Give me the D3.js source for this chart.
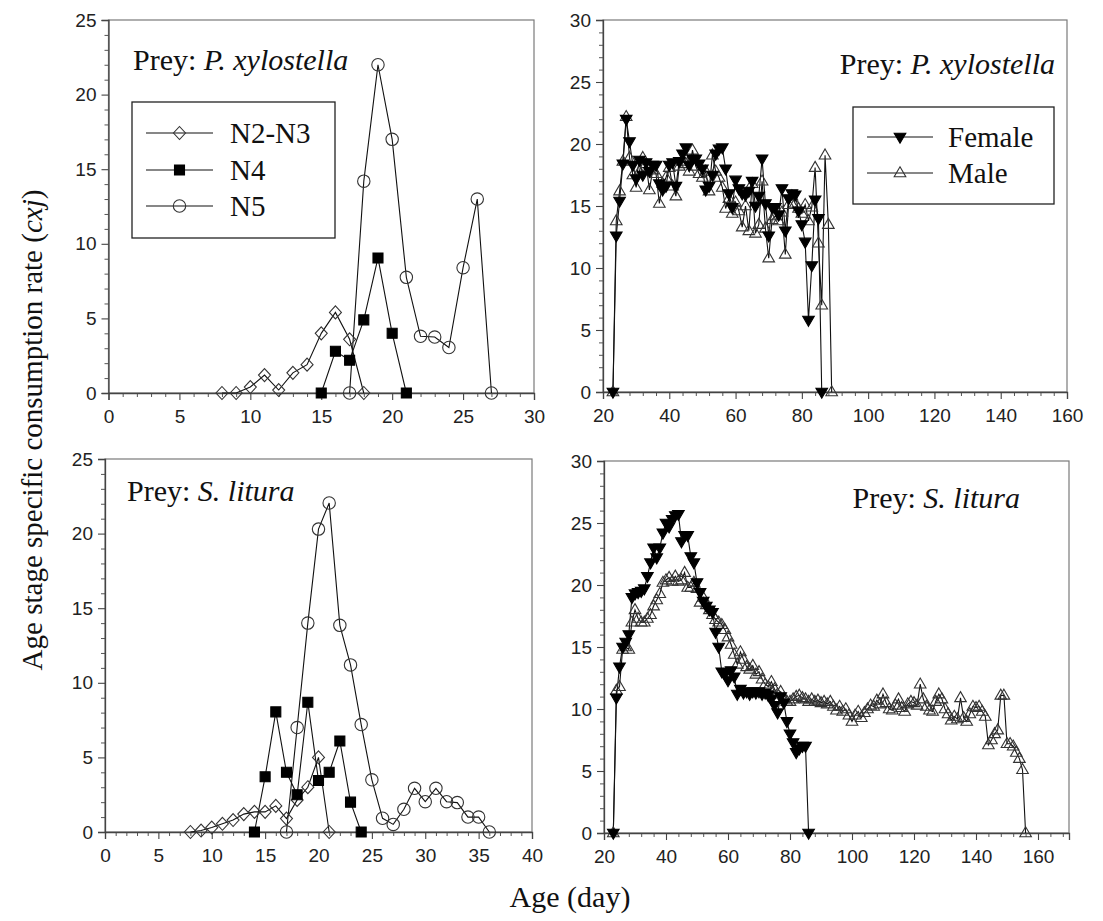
<!DOCTYPE html>
<html>
<head>
<meta charset="utf-8">
<script src="https://cdn.jsdelivr.net/npm/d3@7"></script>
<style>
  body { margin: 0; background: #fff; }
  svg { display: block; }
</style>
</head>
<body>
<svg id="chart" width="1103" height="921"></svg>
<script>
// ---------- Data: age-stage specific consumption rate (cxj) ----------
// Nymphal stages fed P. xylostella (first day of each series + daily values)
const pxN23Start = 8;
const pxN23 = [0, 0, 0.4, 1.2, 0.2, 1.35, 1.9, 4.0, 5.4, 3.6, 0];
const pxN4Start = 15;
const pxN4 = [0, 2.8, 2.2, 4.9, 9.05, 4.0, 0];
const pxN5Start = 17;
const pxN5 = [0, 14.2, 22.0, 17.0, 7.75, 3.8, 3.75, 3.05, 8.4, 13.0, 0];

// Nymphal stages fed S. litura
const slN23Start = 8;
const slN23 = [0, 0.1, 0.3, 0.55, 0.8, 1.2, 1.35, 1.35, 1.75, 0.9, 2.15, 3.0, 5.0, 0];
const slN4Start = 14;
const slN4 = [0, 3.7, 8.05, 4.0, 2.5, 8.7, 3.45, 4.0, 6.1, 2.0, 0];
const slN5Start = 17;
const slN5 = [0, 7.0, 14.0, 20.3, 22.05, 13.85, 11.2, 7.2, 3.5, 0.92, 0.51, 1.52,
              2.93, 2.03, 2.93, 2.03, 1.97, 1.0, 1.0, 0];

// Adults fed P. xylostella (daily from day 23)
const pxFemaleStart = 23;
const pxFemale = [0, 12.6, 15.4, 18.4, 22.0, 20.2, 18.3, 17.2, 18.7, 17.5,
  18.5, 17.8, 18.3, 18.3, 16.8, 16.3, 16.6, 18.3, 18.5, 16.6,
  18.6, 19.2, 19.7, 18.3, 18.8, 18.8, 18.4, 18.0, 16.3, 16.6,
  17.5, 19.2, 19.6, 19.7, 18.0, 16.0, 14.9, 17.1, 16.4, 16.0,
  15.9, 16.2, 17.0, 15.0, 15.8, 18.8, 15.2, 12.6, 14.9, 14.9,
  14.3, 16.4, 13.0, 15.6, 16.0, 15.9, 14.6, 13.5, 12.1, 5.8,
  10.2, 15.5, 14.0, 0];
const pxMaleStart = 23;
const pxMale = [0, 13.8, 16.2, 18.6, 22.2, 18.9, 17.5, 16.5, 17.8, 18.9,
  18.4, 16.3, 17.9, 17.6, 15.2, 16.8, 17.3, 18.1, 16.6, 15.8,
  18.2, 18.6, 18.4, 17.8, 19.5, 18.2, 17.6, 17.3, 17.8, 16.2,
  19.1, 17.8, 17.3, 16.5, 14.8, 15.6, 14.4, 15.3, 14.6, 13.3,
  15.0, 13.0, 16.8, 12.8, 13.5, 17.0, 13.2, 10.8, 13.9, 14.2,
  13.8, 14.5, 11.1, 15.1, 15.8, 15.2, 14.8, 14.4, 15.1, 13.8,
  14.9, 18.1, 12.0, 7.0, 19.1, 13.5, 0];

// Adults fed S. litura (daily from day 23)
const slFemaleStart = 23;
const slFemale = [0, 10.9, 13.4, 15.0, 15.4, 16.0, 19.0, 19.3, 19.4, 19.5,
  19.7, 20.7, 21.8, 23.0, 22.2, 23.0, 24.2, 25.0, 24.7, 25.3,
  25.6, 25.7, 23.5, 24.0, 24.0, 22.3, 21.8, 20.2, 19.4, 18.7,
  18.3, 18.0, 17.8, 16.2, 15.0, 13.0, 12.8, 12.3, 13.1, 12.6,
  11.2, 11.6, 11.3, 11.4, 11.2, 11.4, 11.3, 11.4, 11.2, 11.3,
  11.1, 10.8, 10.3, 9.7, 11.0, 10.5, 9.0, 8.0, 7.3, 6.5,
  6.8, 7.0, 7.0, 0];
const slMaleStart = 23;
const slMale = [0, 11.5, 11.8, 14.8, 15.0, 14.8, 17.0, 18.0, 17.3, 17.0,
  17.0, 17.3, 17.6, 18.3, 18.8, 19.3, 20.2, 20.4, 20.6, 20.3,
  20.7, 20.3, 20.4, 21.0, 19.8, 19.8, 20.2, 19.7, 18.6, 19.0,
  18.4, 18.0, 17.6, 17.2, 17.0, 16.8, 16.4, 15.8, 15.2, 14.4,
  13.6, 14.6, 14.0, 13.4, 13.2, 13.5, 12.8, 13.0, 12.4, 12.0,
  11.8, 12.2, 11.6, 11.2, 11.4, 10.8, 10.6, 10.6, 10.8, 11.0,
  11.1, 10.9, 10.8, 10.6, 10.8, 10.6, 10.7, 10.5, 10.6, 10.4,
  10.6, 10.2, 9.9, 10.2, 9.8, 10.0, 9.5, 9.0, 9.5, 9.8,
  9.3, 9.7, 10.0, 10.3, 10.2, 10.7, 10.4, 11.2, 10.5, 10.0,
  9.9, 10.3, 10.8, 10.1, 9.8, 10.4, 10.6, 10.5, 10.3, 12.0,
  10.8, 10.2, 9.9, 9.8, 10.6, 11.2, 10.8, 10.0, 9.6, 9.1,
  9.4, 9.2, 10.9, 9.3, 9.0, 9.6, 10.2, 10.1, 10.2, 9.8,
  9.4, 7.1, 7.5, 8.0, 8.3, 11.1, 11.1, 7.2, 7.2, 7.0,
  6.5, 6.0, 5.1, 0];

// Axis tick labels
const nymphTicksTop = [0, 5, 10, 15, 20, 25, 30];
const nymphTicksBottom = [0, 5, 10, 15, 20, 25, 30, 35, 40];
const adultTicks = [20, 40, 60, 80, 100, 120, 140, 160];
const yTicks25 = [0, 5, 10, 15, 20, 25];
const yTicks30 = [0, 5, 10, 15, 20, 25, 30];

// Legend labels
const nymphNames = ["N2-N3", "N4", "N5"];
const adultNames = ["Female", "Male"];

// ---------- Drawing ----------
const svg = d3.select("#chart");
const SERIF = "'Liberation Serif', 'Times New Roman', serif";
const SANS = "'Liberation Sans', Arial, sans-serif";

const toPoints = (start, vals) => vals.map((v, i) => ({ day: start + i, v }));

// marker shapes
const markers = {
  diamond: { d: "M0,-6.5L6,0L0,6.5L-6,0Z", fill: "none", stroke: "#333" },
  square: { d: "M-5,-5H5V5H-5Z", fill: "#000", stroke: "#000" },
  circle: { d: "M6.2,0A6.2,6.2 0 1,1 -6.2,0A6.2,6.2 0 1,1 6.2,0Z", fill: "none", stroke: "#333" },
  triUp: { d: "M0,-6.2L5.8,3.8L-5.8,3.8Z", fill: "none", stroke: "#333" },
  triDown: { d: "M0,6.2L5.8,-3.8L-5.8,-3.8Z", fill: "#000", stroke: "#000" }
};

function drawMarker(g, kind, x, y) {
  const m = markers[kind];
  g.append("path")
    .attr("d", m.d)
    .attr("transform", `translate(${x},${y})`)
    .attr("fill", m.fill)
    .attr("stroke", m.stroke)
    .attr("stroke-width", 1.1);
}

function drawPanel(cfg) {
  const x = d3.scaleLinear().domain(cfg.xDomain).range([cfg.left, cfg.right]);
  const y = d3.scaleLinear().domain(cfg.yDomain).range([cfg.bottom, cfg.top]);
  const g = svg.append("g");

  // frame
  g.append("rect")
    .attr("x", cfg.left).attr("y", cfg.top)
    .attr("width", cfg.right - cfg.left).attr("height", cfg.bottom - cfg.top)
    .attr("fill", "none").attr("stroke", "#7a7a7a").attr("stroke-width", 1.2);

  // minor ticks
  const xMinor = d3.range(cfg.xDomain[0], cfg.xDomain[1] + 0.001, cfg.xMinorStep)
    .filter(v => !cfg.xTicks.includes(v));
  const yMinor = d3.range(cfg.yDomain[0], cfg.yDomain[1] + 0.001, 1)
    .filter(v => !cfg.yTicks.includes(v));

  const xMinAx = g.append("g").attr("transform", `translate(0,${cfg.bottom})`)
    .call(d3.axisBottom(x).tickValues(xMinor).tickSize(4).tickFormat(""));
  const yMinAx = g.append("g").attr("transform", `translate(${cfg.left},0)`)
    .call(d3.axisLeft(y).tickValues(yMinor).tickSize(4).tickFormat(""));
  [xMinAx, yMinAx].forEach(a => {
    a.select(".domain").remove();
    a.selectAll("line").attr("stroke", "#555");
  });

  // major ticks
  const xAx = g.append("g").attr("transform", `translate(0,${cfg.bottom})`)
    .call(d3.axisBottom(x).tickValues(cfg.xTicks).tickSize(7).tickPadding(10)
      .tickFormat(d3.format("d")));
  const yAx = g.append("g").attr("transform", `translate(${cfg.left},0)`)
    .call(d3.axisLeft(y).tickValues(cfg.yTicks).tickSize(7).tickPadding(5)
      .tickFormat(d3.format("d")));
  [xAx, yAx].forEach(a => {
    a.select(".domain").attr("stroke", "#444").attr("stroke-width", 1.3);
    a.selectAll("line").attr("stroke", "#444").attr("stroke-width", 1.1);
    a.selectAll("text").attr("fill", "#222")
      .style("font-family", SANS).style("font-size", "19px");
  });

  // series: line then markers
  const line = d3.line().x(d => x(d.day)).y(d => y(d.v));
  cfg.series.forEach(s => {
    g.append("path").datum(s.points)
      .attr("d", line).attr("fill", "none")
      .attr("stroke", "#111").attr("stroke-width", 1.1);
  });
  cfg.series.forEach(s => {
    const mg = g.append("g");
    s.points.forEach(p => drawMarker(mg, s.marker, x(p.day), y(p.v)));
  });

  // prey label
  const t = g.append("text")
    .attr("x", cfg.label.x).attr("y", cfg.label.y)
    .attr("text-anchor", cfg.label.anchor)
    .style("font-family", SERIF).style("font-size", "30px").attr("fill", "#111");
  t.append("tspan").text("Prey: ");
  t.append("tspan").style("font-style", "italic").text(cfg.label.species);

  // legend
  if (cfg.legend) {
    const L = cfg.legend;
    g.append("rect")
      .attr("x", L.x).attr("y", L.y).attr("width", L.w).attr("height", L.h)
      .attr("fill", "#fff").attr("stroke", "#222").attr("stroke-width", 1.3);
    L.items.forEach((it, i) => {
      const cy = L.rowY[i];
      g.append("line")
        .attr("x1", L.lineX[0]).attr("x2", L.lineX[1])
        .attr("y1", cy).attr("y2", cy)
        .attr("stroke", "#111").attr("stroke-width", 1.1);
      drawMarker(g, it.marker, (L.lineX[0] + L.lineX[1]) / 2, cy);
      g.append("text")
        .attr("x", L.textX).attr("y", cy + 10)
        .style("font-family", SERIF).style("font-size", "29px").attr("fill", "#111")
        .text(it.name);
    });
  }
}

const panels = [
  {
    left: 108.5, right: 534, top: 20, bottom: 393,
    xDomain: [0, 30], yDomain: [0, 25], xTicks: nymphTicksTop, yTicks: yTicks25, xMinorStep: 1,
    series: [
      { points: toPoints(pxN23Start, pxN23), marker: "diamond" },
      { points: toPoints(pxN4Start, pxN4), marker: "square" },
      { points: toPoints(pxN5Start, pxN5), marker: "circle" }
    ],
    label: { x: 133, y: 70, anchor: "start", species: "P. xylostella" },
    legend: {
      x: 132, y: 102, w: 203, h: 136, lineX: [146, 213], textX: 230,
      rowY: [133, 170, 206],
      items: [
        { name: nymphNames[0], marker: "diamond" },
        { name: nymphNames[1], marker: "square" },
        { name: nymphNames[2], marker: "circle" }
      ]
    }
  },
  {
    left: 603, right: 1067, top: 20, bottom: 392,
    xDomain: [20, 160], yDomain: [0, 30], xTicks: adultTicks, yTicks: yTicks30, xMinorStep: 4,
    series: [
      { points: toPoints(pxMaleStart, pxMale), marker: "triUp" },
      { points: toPoints(pxFemaleStart, pxFemale), marker: "triDown" }
    ],
    label: { x: 1055, y: 74, anchor: "end", species: "P. xylostella" },
    legend: {
      x: 853, y: 107, w: 201, h: 97, lineX: [867, 933], textX: 948,
      rowY: [137, 173],
      items: [
        { name: adultNames[0], marker: "triDown" },
        { name: adultNames[1], marker: "triUp" }
      ]
    }
  },
  {
    left: 105, right: 532, top: 459, bottom: 832,
    xDomain: [0, 40], yDomain: [0, 25], xTicks: nymphTicksBottom, yTicks: yTicks25, xMinorStep: 1,
    series: [
      { points: toPoints(slN23Start, slN23), marker: "diamond" },
      { points: toPoints(slN4Start, slN4), marker: "square" },
      { points: toPoints(slN5Start, slN5), marker: "circle" }
    ],
    label: { x: 127, y: 501, anchor: "start", species: "S. litura" }
  },
  {
    left: 604, right: 1069, top: 461, bottom: 833,
    xDomain: [20, 170], yDomain: [0, 30], xTicks: adultTicks, yTicks: yTicks30, xMinorStep: 4,
    series: [
      { points: toPoints(slMaleStart, slMale), marker: "triUp" },
      { points: toPoints(slFemaleStart, slFemale), marker: "triDown" }
    ],
    label: { x: 1020, y: 508, anchor: "end", species: "S. litura" }
  }
];

panels.forEach(drawPanel);

// shared axis titles
const yTitle = svg.append("text")
  .attr("transform", "translate(42,430) rotate(-90)")
  .attr("text-anchor", "middle")
  .style("font-family", SERIF).style("font-size", "29px").attr("fill", "#111");
yTitle.append("tspan").text("Age stage specific consumption rate (");
yTitle.append("tspan").style("font-style", "italic").text("cxj");
yTitle.append("tspan").text(")");

svg.append("text")
  .attr("x", 570).attr("y", 907)
  .attr("text-anchor", "middle")
  .style("font-family", SERIF).style("font-size", "30px").attr("fill", "#111")
  .text("Age (day)");
</script>
</body>
</html>
